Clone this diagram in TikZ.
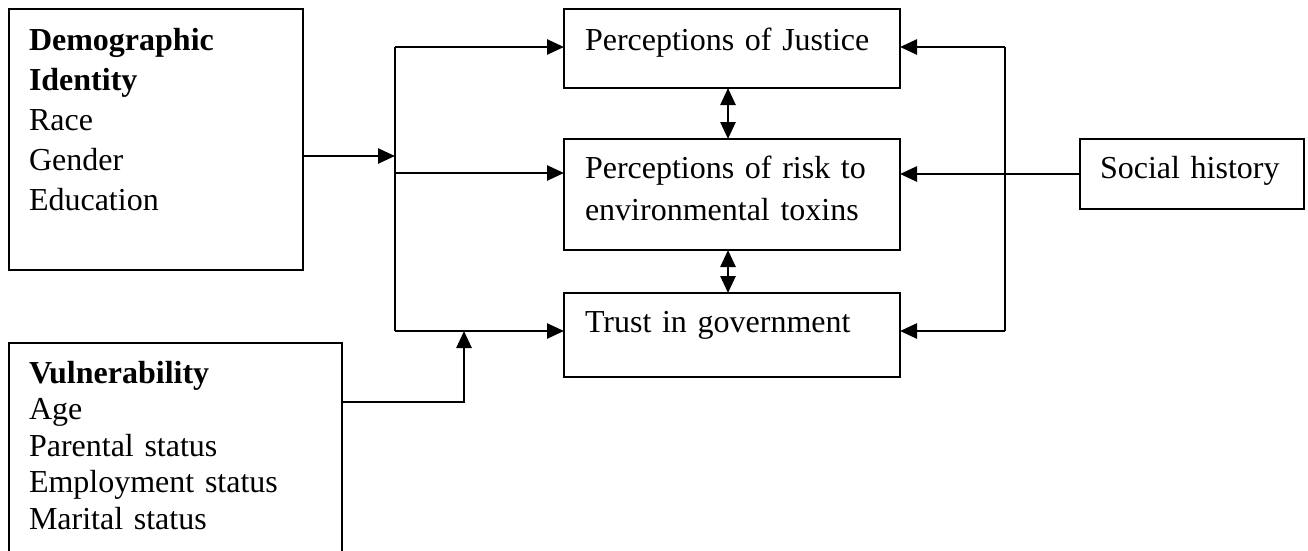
\documentclass[tikz,border=0pt]{standalone}
\usepackage{fontspec}
\setmainfont{Liberation Serif}[WordSpace=0.8]
\usetikzlibrary{arrows.meta}

\begin{document}
\begin{tikzpicture}[x=1pt, y=-1pt, line width=2pt,
  >={Triangle[length=17pt,width=15pt]},
  box/.style={draw, anchor=north west, align=left, inner xsep=20pt,
    inner ysep=0pt, outer sep=0pt, font=\fontsize{32}{40}\selectfont},
  midbox/.style={box, text width=294pt, inner xsep=21pt},
  wire/.style={line width=2.6pt}]
\useasboundingbox (0,0) rectangle (1308,550);

\node[box, text width=254pt, text height=41pt, text depth=220pt] (demo) at (9,9)
  {\textbf{Demographic}\\\textbf{Identity}\\Race\\Gender\\Education};
\node[box, text width=293pt, text height=40pt, text depth=180pt,
  font=\fontsize{32}{36.5}\selectfont] (vuln) at (9,343)
  {\textbf{Vulnerability}\\Age\\Parental status\\Employment status\\Marital status};
\node[midbox, text height=41pt, text depth=38pt] (just) at (564,9) {Perceptions of Justice};
\node[midbox, text height=39pt, text depth=72pt, font=\fontsize{32}{42}\selectfont] (risk) at (564,139)
  {Perceptions of risk to\\environmental toxins};
\node[midbox, text height=39pt, text depth=45pt] (trust) at (564,293) {Trust in government};
\node[box, text width=184pt, text height=39pt, text depth=31pt] (social) at (1080,139) {Social history};

% left side
\coordinate (l0) at (395,156);
\coordinate (l1) at (395,47);
\coordinate (l2) at (395,173);
\coordinate (l3) at (395,331);
\draw[wire] (l1) -- (l3);
\draw[wire,->] (demo.east |- l0) -- (l0);
\draw[wire,->] (l1) -- (just.west |- l1);
\draw[wire,->] (l2) -- (risk.west |- l2);
\draw[wire,->] (l3) -- (trust.west |- l3);

% vulnerability
\coordinate (vk) at (464,402);
\coordinate (v1) at (464,331);
\draw[wire,->] (vuln.east |- vk) -- (vk) -- (v1);

% between the middle boxes
\coordinate (m1) at (728,0);
\draw[wire,<->] (just.south -| m1) -- (risk.north -| m1);
\draw[wire,<->] (risk.south -| m1) -- (trust.north -| m1);

% right side
\coordinate (r1) at (1005,47);
\coordinate (r3) at (1005,331);
\draw[wire] (r1) -- (r3);
\draw[wire,->] (r1) -- (just.east |- r1);
\draw[wire,->] (r3) -- (trust.east |- r3);
\draw[wire,->] (social.west) -- (risk.east |- social.west);
\end{tikzpicture}
\end{document}
